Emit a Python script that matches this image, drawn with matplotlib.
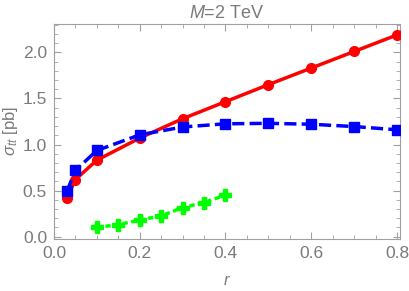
import matplotlib
matplotlib.use('Agg')
import matplotlib.pyplot as plt
from matplotlib.ticker import MultipleLocator

plt.rcParams['font.family'] = 'Liberation Sans'
plt.rcParams['mathtext.fontset'] = 'custom'
plt.rcParams['mathtext.it'] = 'Liberation Sans:italic'
plt.rcParams['mathtext.rm'] = 'Liberation Sans'

r_red = [0.03, 0.05, 0.1, 0.2, 0.3, 0.4, 0.5, 0.6, 0.7, 0.8]
sig_red = [0.42, 0.62, 0.83, 1.07, 1.28, 1.465, 1.65, 1.83, 2.01, 2.19]
r_blue = [0.03, 0.05, 0.1, 0.2, 0.3, 0.4, 0.5, 0.6, 0.7, 0.8]
sig_blue = [0.49, 0.72, 0.935, 1.105, 1.19, 1.225, 1.23, 1.22, 1.195, 1.16]
r_green = [0.1, 0.15, 0.2, 0.25, 0.3, 0.35, 0.4]
sig_green = [0.10, 0.13, 0.18, 0.225, 0.315, 0.37, 0.45]

grey = '#7a7a7a'
fig = plt.figure(figsize=(4.09, 2.91), dpi=100)
ax = fig.add_axes([0.132, 0.179, 0.846, 0.739])

ax.plot(r_red, sig_red, color='red', lw=2.5, marker='o', ms=7, zorder=3)
ax.plot(r_blue, sig_blue, color='blue', lw=2.5, ls=(0, (3.5, 1.5)), marker='s', ms=7, zorder=4)
ax.plot(r_green, sig_green, color='#00ff00', lw=2.5, ls=(0, (1.5, 1)), marker='P', ms=8.5, zorder=3)

ax.set_xlim(0, 0.807)
ax.set_ylim(-0.025, 2.31)
ax.xaxis.set_major_locator(MultipleLocator(0.2))
ax.xaxis.set_minor_locator(MultipleLocator(0.05))
ax.yaxis.set_major_locator(MultipleLocator(0.5))
ax.yaxis.set_minor_locator(MultipleLocator(0.1))
ax.tick_params(which='both', direction='in', top=True, right=True, color='#a0a0a0',
               labelcolor=grey, labelsize=12.5)
ax.tick_params(which='major', length=5, width=0.8, pad=5)
ax.tick_params(which='minor', length=3, width=0.6)
for s in ax.spines.values():
    s.set_color('#a0a0a0')

ax.set_title(r'$M$=2 TeV', color=grey, fontsize=13, pad=4)
ax.set_xlabel(r'$r$', color=grey, fontsize=12, labelpad=9)
ax.set_ylabel(r'$\sigma_{tt}$ [pb]', color=grey, fontsize=12, labelpad=2)

fig.savefig('out.png', dpi=100)
